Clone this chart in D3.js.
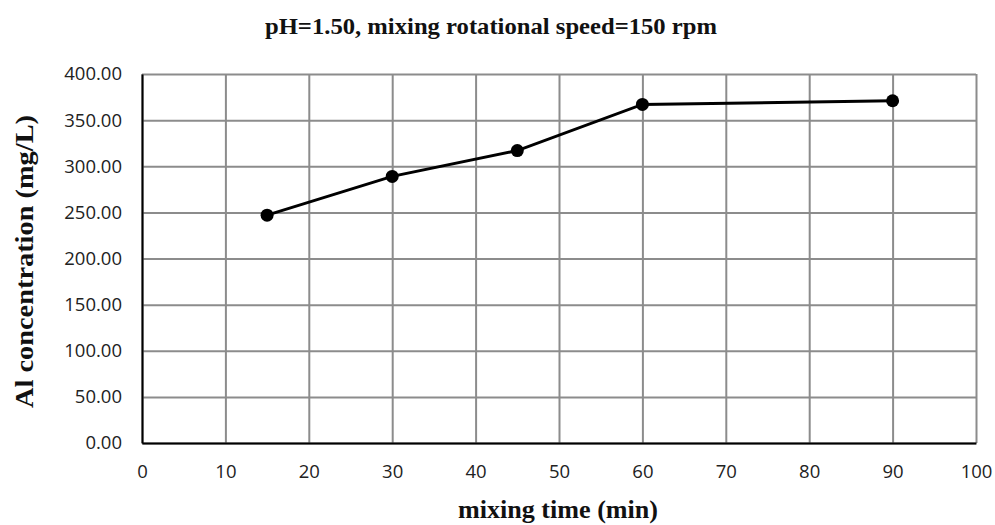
<!DOCTYPE html>
<html>
<head>
  <meta charset="utf-8">
  <script src="https://d3js.org/d3.v7.min.js"></script>
  <style>
    body { margin: 0; background: #fff; }
    .tick text { font-family: "Open Sans", sans-serif; font-size: 18.5px; fill: #222; }
    .grid line { stroke: #8c8c8c; stroke-width: 2; }
    .grid .domain { stroke: none; }
    .ttl { font-family: "Liberation Serif", serif; font-weight: bold; fill: #111; }
  </style>
</head>
<body>
<svg id="chart" width="995" height="525"></svg>
<script>
  const mixingTime = [15, 30, 45, 60, 90];
  const alConc = [247, 289, 317, 367, 371];
  const xTicks = [0, 10, 20, 30, 40, 50, 60, 70, 80, 90, 100];
  const yTicks = [0, 50, 100, 150, 200, 250, 300, 350, 400];

  const svg = d3.select("svg#chart");
  const margin = { top: 74, right: 19, bottom: 82, left: 142 };
  const width = +svg.attr("width");
  const height = +svg.attr("height");
  const chartWidth = width - margin.left - margin.right;
  const chartHeight = height - margin.top - margin.bottom;

  const xScale = d3.scaleLinear().domain([0, 100]).range([0, chartWidth]);
  const yScale = d3.scaleLinear().domain([0, 400]).range([chartHeight, 0]);

  const chartArea = svg.append("g")
    .attr("transform", "translate(" + margin.left + "," + margin.top + ")");

  // gridlines
  chartArea.append("g").attr("class", "grid")
    .call(d3.axisLeft(yScale).tickValues(yTicks).tickSize(-chartWidth).tickFormat(""));
  chartArea.append("g").attr("class", "grid")
    .attr("transform", "translate(0," + chartHeight + ")")
    .call(d3.axisBottom(xScale).tickValues(xTicks).tickSize(-chartHeight).tickFormat(""));

  // axes
  let leftAxis = d3.axisLeft(yScale).tickValues(yTicks).tickSize(0).tickPadding(20)
    .tickFormat(d3.format(".2f"));
  let la = chartArea.append("g").call(leftAxis);
  la.select(".domain").attr("stroke", "#000").attr("stroke-width", 2);

  let bottomAxis = d3.axisBottom(xScale).tickValues(xTicks).tickSize(0).tickPadding(22);
  let ba = chartArea.append("g")
    .attr("transform", "translate(0," + chartHeight + ")")
    .call(bottomAxis);
  ba.select(".domain").attr("stroke", "#000").attr("stroke-width", 2);

  const data = mixingTime.map((t, i) => ({ t: t, c: alConc[i] }));

  chartArea.append("path")
    .datum(data)
    .attr("fill", "none")
    .attr("stroke", "#000")
    .attr("stroke-width", 3)
    .attr("d", d3.line().x(d => xScale(d.t)).y(d => yScale(d.c)));

  chartArea.selectAll("circle.pt").data(data)
    .join("circle")
    .attr("class", "pt")
    .attr("cx", d => xScale(d.t))
    .attr("cy", d => yScale(d.c))
    .attr("r", 6.5)
    .attr("fill", "#000");

  // titles
  svg.append("text").attr("class", "ttl")
    .attr("x", 491).attr("y", 34)
    .attr("text-anchor", "middle")
    .attr("textLength", 452).attr("lengthAdjust", "spacingAndGlyphs")
    .style("font-size", "23px")
    .text("pH=1.50, mixing rotational speed=150 rpm");

  svg.append("text").attr("class", "ttl")
    .attr("x", 558).attr("y", 518)
    .attr("text-anchor", "middle")
    .attr("textLength", 200).attr("lengthAdjust", "spacingAndGlyphs")
    .style("font-size", "25px")
    .text("mixing time (min)");

  svg.append("text").attr("class", "ttl")
    .attr("transform", "translate(33,261.5) rotate(-90)")
    .attr("text-anchor", "middle")
    .attr("textLength", 293).attr("lengthAdjust", "spacingAndGlyphs")
    .style("font-size", "25px")
    .text("Al concentration (mg/L)");
</script>
</body>
</html>
